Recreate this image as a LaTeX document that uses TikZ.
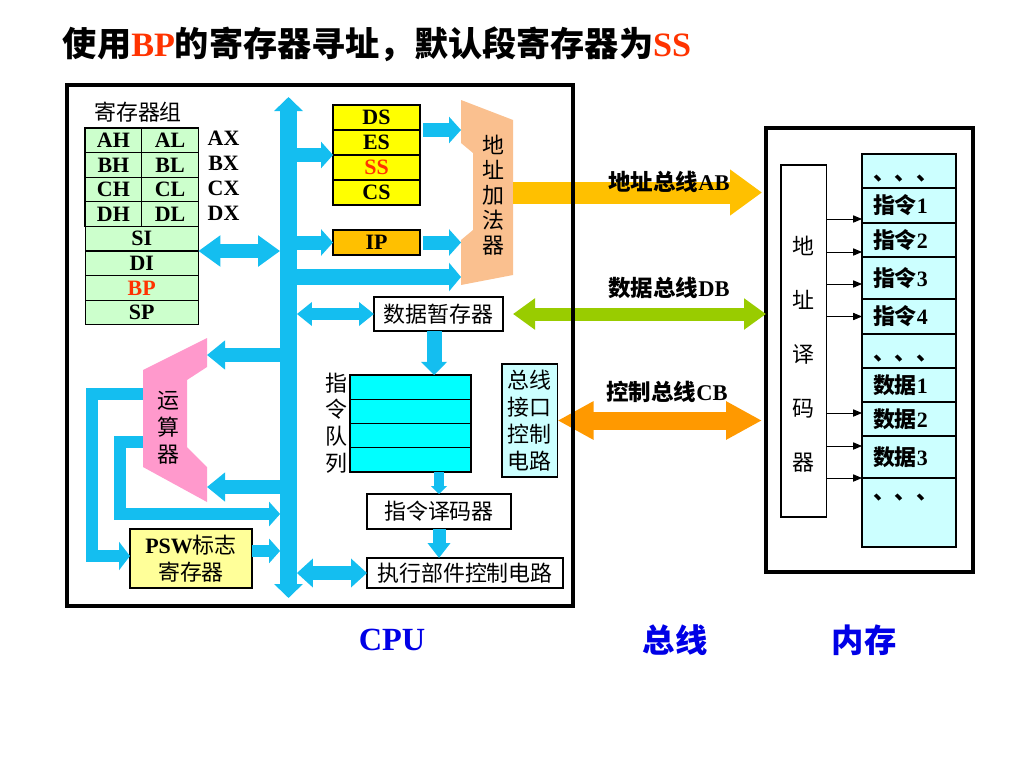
\documentclass[tikz,border=0pt]{standalone}
\usepackage{fontspec}
\setmainfont{Liberation Serif}
\newfontfamily\cjk{Noto Sans CJK SC}
\usetikzlibrary{arrows.meta,positioning}

\definecolor{busc}{RGB}{20,190,240}
\definecolor{regc}{RGB}{204,255,204}
\definecolor{segc}{RGB}{255,255,0}
\definecolor{ipc}{RGB}{255,192,0}
\definecolor{addc}{RGB}{250,192,143}
\definecolor{alucol}{RGB}{255,153,204}
\definecolor{quec}{RGB}{0,255,255}
\definecolor{lcyan}{RGB}{204,255,255}
\definecolor{pswc}{RGB}{255,255,153}
\definecolor{abc}{RGB}{255,192,0}
\definecolor{dbc}{RGB}{153,204,0}
\definecolor{cbc}{RGB}{255,153,0}
\definecolor{redt}{RGB}{255,51,0}
\definecolor{bluet}{RGB}{0,0,230}

\newcommand\fsn{\fontsize{15.6}{19}\selectfont}
\newcommand\dotsrow{\smash{\raisebox{-2.4mm}{\cjk 、、、}}}

\tikzset{
  box/.style={draw, line width=0.8pt, inner sep=0pt, outer sep=0pt},
  reg/.style={box, fill=regc, minimum width=14.17mm, minimum height=6.15mm, font=\fsn\bfseries},
  regw/.style={reg, minimum width=28.33mm},
  seg/.style={box, fill=segc, minimum width=21.75mm, minimum height=6.25mm, font=\fsn\bfseries},
  plain/.style={box, fill=white, font=\cjk\fsn},
  qrow/.style={box, fill=quec, minimum width=30.25mm, minimum height=6.06mm},
  fat/.style={draw=busc, line width=3.5mm, >={Triangle[length=3mm,width=6.5mm]}},
  cell/.style={box, fill=lcyan, minimum width=23.5mm, text width=18mm, align=left, font=\fsn\bfseries},
  addr/.style={line width=0.6pt, -{Triangle[length=2.2mm,width=1.8mm]}},
  vtext/.style={align=center, font=\cjk\fontsize{15.6}{#1}\selectfont},
}

\begin{document}
\begin{tikzpicture}[x=0.25mm, y=-0.25mm]
\useasboundingbox (0,0) rectangle (1024,768);

% title
\node[anchor=west, font=\fontsize{24.3}{28}\selectfont\bfseries] (title) at (58,44)
  {{\cjk 使用}\textcolor{redt}{BP}{\cjk 的寄存器寻址，默认段寄存器为}\textcolor{redt}{SS}};

% memory frame
\node[draw, line width=1mm, minimum width=51.75mm, minimum height=111mm, inner sep=0pt, outer sep=0pt] (mem) at (869.5,350) {};

% register group
\node[font=\cjk\fsn] (rglbl) at (138,112) {寄存器组};
\node[reg] (ah) at (113.4,140.3) {AH};
\node[reg, right=0pt of ah] (al) {AL};
\node[reg, below=0pt of ah] (bh) {BH};
\node[reg, right=0pt of bh] (bl) {BL};
\node[reg, below=0pt of bh] (ch) {CH};
\node[reg, right=0pt of ch] (cl) {CL};
\node[reg, below=0pt of ch] (dh) {DH};
\node[reg, right=0pt of dh] (dl) {DL};
\node[regw, below=0pt of dh.south east] (si) {SI};
\node[regw, below=0pt of si] (di) {DI};
\node[regw, below=0pt of di, text=redt] (bp) {BP};
\node[regw, below=0pt of bp] (sp) {SP};
\node[font=\fsn\bfseries] (ax) at (223.5,138) {AX};
\node[font=\fsn\bfseries] (bx) at (223.5,163) {BX};
\node[font=\fsn\bfseries] (cx) at (223.5,188) {CX};
\node[font=\fsn\bfseries] (dx) at (223.5,213) {DX};

% internal bus
\coordinate (busT) at (288.5,97);
\coordinate (busB) at (288.5,598);
\draw[fat, line width=4.25mm, <->, >={Triangle[length=3.5mm,width=7mm]}] (busT) -- (busB);

% segment registers, IP, adder
\node[seg] (ds) at (376.5,117.5) {DS};
\node[seg, below=0pt of ds] (es) {ES};
\node[seg, below=0pt of es, text=redt] (ss) {SS};
\node[seg, below=0pt of ss] (cs) {CS};
\node[seg, fill=ipc] (ip) at (376.5,242.5) {IP};

\node[minimum width=13mm, minimum height=46.25mm, inner sep=0pt, outer sep=0pt] (adder) at (487,192.5) {};
\fill[addc] (461,100) -- (513,120) -- (513,275) -- (461,285) -- (461,240) -- (473,230)
  -- (473,153) -- (461,143) -- cycle;
\node[vtext=17.8] (addlbl) at (493,195) {地\\址\\加\\法\\器};

\draw[fat, ->] (busT |- es.south west) -- (es.south west);
\draw[fat, ->, shorten <=0.75mm] (ds.south east) -- (adder.west |- ds.south east);
\draw[fat, ->] (busT |- ip) -- (ip.west);
\draw[fat, ->, shorten <=0.75mm] (ip.east) -- (adder.west |- ip);
\coordinate (addin) at ([yshift=2mm]adder.south west);
\draw[fat, line width=4mm, ->, >={Triangle[length=3mm,width=7mm]}] (busT |- addin) -- (addin);

\draw[fat, <->, >={Triangle[length=5.5mm,width=7.5mm]}, shorten >=2.1mm] (si.south east) -- (busT |- si.south east);

% data latch, queue, decoder
\node[plain, minimum width=32.25mm, minimum height=8.5mm] (tmp) at (438.5,314) {数据暂存器};
\draw[fat, line width=3mm, <->, >={Triangle[length=3.75mm,width=5.75mm]}, shorten <=2.1mm] (busT |- tmp.west) -- (tmp.west);

\node[qrow] (q1) at (410.5,387.1) {};
\node[qrow, below=0pt of q1] (q2) {};
\node[qrow, below=0pt of q2] (q3) {};
\node[qrow, below=0pt of q3] (q4) {};
\node[vtext=19] (qlbl) at (336,423) {指\\令\\队\\列};

\coordinate (tq) at ([xshift=-1.1mm]tmp.south);
\draw[fat, line width=3.75mm, ->, >={Triangle[length=3.25mm,width=6.25mm]}] (tq) -- (tq |- q1.north);

\node[box, fill=lcyan, minimum width=13.9mm, minimum height=28.25mm, vtext=19.2] (biu) at (529.75,420.5) {总线\\接口\\控制\\电路};

\node[plain, minimum width=36mm, minimum height=8.75mm] (dec) at (439,511.5) {指令译码器};
\node[plain, minimum width=49mm, minimum height=7.5mm] (exec) at (465,573) {执行部件控制电路};
\draw[fat, line width=2.5mm, ->, >={Triangle[length=2mm,width=4mm]}] (dec.north |- q4.south) -- (dec.north);
\draw[fat, line width=3.25mm, ->, >={Triangle[length=3.75mm,width=5.5mm]}] (dec.south) -- (dec.south |- exec.north);
\draw[fat, <->, >={Triangle[length=4mm,width=7mm]}, shorten <=2.1mm] (busT |- exec.west) -- (exec.west);

% ALU and flags
\node[box, fill=pswc, minimum width=30.5mm, minimum height=14.75mm, align=center, font=\fsn] (psw) at (191,558.5)
  {\textbf{PSW}{\cjk 标志}\\{\cjk 寄存器}};

\node[minimum width=16mm, minimum height=41mm, inner sep=0pt, outer sep=0pt] (alu) at (175,420) {};
\coordinate (fbend) at (92,556);
\coordinate (rbend) at (120,514);
\draw[fat, line width=3mm, ->, >={Triangle[length=2.75mm,width=7mm]}] ([yshift=-14mm]alu.north west) -| (fbend) -- (psw.west |- fbend);
\draw[fat, line width=3mm, ->, >={Triangle[length=2.75mm,width=6mm]}, shorten >=2.1mm] ([yshift=15mm]alu.south west) -| (rbend) -- (busT |- rbend);
\fill[alucol] (207,338) -- (207,367) -- (187,380) -- (187,447) -- (207,467) -- (207,502)
  -- (143,467) -- (143,370) -- cycle;
\node[vtext=19.2] (alulbl) at (168,428) {运\\算\\器};

\coordinate (alua) at ([yshift=-4.25mm]alu.north east);
\coordinate (alub) at ([yshift=3.75mm]alu.south east);
\draw[fat, ->, >={Triangle[length=4.5mm,width=7mm]}] (busT |- alua) -- (alua);
\draw[fat, ->, >={Triangle[length=4.5mm,width=7mm]}] (busT |- alub) -- (alub);

\coordinate (pswo) at ([yshift=1.9mm]psw.east);
\draw[fat, line width=3mm, ->, >={Triangle[length=2.75mm,width=6mm]}, shorten >=2.1mm] (pswo) -- (busT |- pswo);

% system buses
\draw[draw=abc, line width=5.5mm, -{Triangle[length=8mm,width=11mm]}, shorten >=1mm] (adder.east) -- (adder.east -| mem.west);
\draw[draw=dbc, line width=3.25mm, <->, >={Triangle[length=5.5mm,width=7.5mm]}, shorten <=2.5mm] (tmp.east) -- (tmp.east -| mem.west);
\draw[draw=cbc, line width=4.5mm, <->, >={Triangle[length=9mm,width=9mm]}, shorten >=1mm] (biu.east) -- (biu.east -| mem.west);
\node[font=\fontsize{16}{19}\selectfont\bfseries] (ablbl) at (669,182) {{\cjk 地址总线}AB};
\node[font=\fontsize{16}{19}\selectfont\bfseries] (dblbl) at (669,288) {{\cjk 数据总线}DB};
\node[font=\fontsize{16}{19}\selectfont\bfseries] (cblbl) at (667,392) {{\cjk 控制总线}CB};

% memory
\node[box, minimum width=11.4mm, minimum height=88mm] (memdec) at (803.8,341) {};
\node[vtext=38.4] (mdlbl) at (803.5,354.5) {地\\址\\译\\码\\器};
\node[cell, minimum height=8.5mm, anchor=north] (m1) at (909,154) {\dotsrow};
\node[cell, minimum height=8.75mm, below=0pt of m1] (m2) {{\cjk 指令}1};
\node[cell, minimum height=8.5mm, below=0pt of m2] (m3) {{\cjk 指令}2};
\node[cell, minimum height=10.5mm, below=0pt of m3] (m4) {{\cjk 指令}3};
\node[cell, minimum height=8.75mm, below=0pt of m4] (m5) {{\cjk 指令}4};
\node[cell, minimum height=8.5mm, below=0pt of m5] (m6) {\dotsrow};
\node[cell, minimum height=8.5mm, below=0pt of m6] (m7) {{\cjk 数据}1};
\node[cell, minimum height=8.5mm, below=0pt of m7] (m8) {{\cjk 数据}2};
\node[cell, minimum height=10.5mm, below=0pt of m8] (m9) {{\cjk 数据}3};
\node[cell, minimum height=17.25mm, below=0pt of m9] (m10) {{\cjk 、、、}\\[1mm]\mbox{}};

\coordinate (a1) at ([yshift=1mm]m2.south west);
\coordinate (a2) at ([yshift=1.25mm]m3.south west);
\coordinate (a3) at ([yshift=-1.5mm]m4.west);
\coordinate (a4) at (m5.west);
\coordinate (a5) at ([yshift=1.5mm]m8.west);
\coordinate (a6) at ([yshift=2.75mm]m9.west);
\coordinate (a7) at (m10.north west);
\foreach \i in {1,...,7}
  \draw[addr] (memdec.east |- a\i) -- (a\i);

% CPU frame
\node[draw, line width=1mm, minimum width=126.5mm, minimum height=130.25mm, inner sep=0pt] (cpu) at (320,345.5) {};

% captions
\node[font=\fontsize{23}{27}\selectfont\bfseries, text=bluet] (cpulbl) at (392,640) {CPU};
\node[font=\cjk\fontsize{23}{27}\selectfont\bfseries, text=bluet] (buslbl) at (675,640) {总线};
\node[font=\cjk\fontsize{23}{27}\selectfont\bfseries, text=bluet] (memlbl) at (864,640) {内存};
\end{tikzpicture}
\end{document}
